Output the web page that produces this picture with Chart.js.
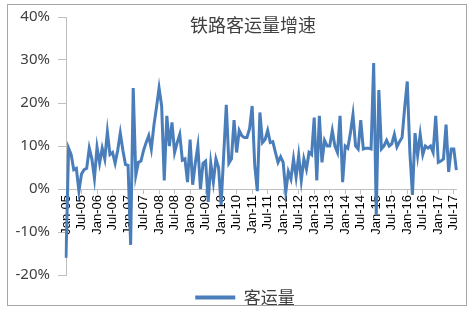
<!DOCTYPE html>
<html>
<head>
<meta charset="utf-8">
<script src="https://cdn.jsdelivr.net/npm/chart.js@4/dist/chart.umd.min.js"></script>
<style>
  html, body { margin: 0; padding: 0; background: #fff; }
  #wrap { position: relative; width: 474px; height: 312px; }
  #frame { position: absolute; left: 7px; top: 4px; width: 458px; height: 300px; border: 1px solid #a6a6a6; pointer-events: none; }
  canvas { position: absolute; left: 0; top: 0; }
</style>
</head>
<body>
<div id="wrap">
  <canvas id="chart" width="474" height="312"></canvas>
  <div id="frame"></div>
</div>
<script>
const monthNames = ['Jan', 'Feb', 'Mar', 'Apr', 'May', 'Jun', 'Jul', 'Aug', 'Sep', 'Oct', 'Nov', 'Dec'];
const years = ['05', '06', '07', '08', '09', '10', '11', '12', '13', '14', '15', '16', '17'];

// 铁路客运量同比增速 (%), monthly
const y2005 = [-16, 9.5, 8, 4.5, 4.8, -0.5, 3.5, 4.5, 4.8, 9.5, 7, 2.5];
const y2006 = [9.7, 6, 9.5, 7, 13.3, 8, 8.5, 6, 9, 13, 9, 5.7];
const y2007 = [5.5, -13, 23.5, 3.2, 6.2, 6.5, 9, 10.8, 12.4, 9.3, 14.8, 19];
const y2008 = [23.5, 19.3, 2, 17, 10, 15.5, 8.5, 10.8, 12.7, 6.7, 7, 1.6];
const y2009 = [11.5, 1, 6, 10, 0, 6, 6.5, -3, 6, 1.6, 7, 5];
const y2010 = [-3.7, 8, 19.6, 6, 7, 16, 8.5, 13.6, 12.4, 12, 12, 14];
const y2011 = [19.3, 5.5, -0.5, 17.8, 10.8, 11.5, 13.6, 10.8, 11, 8.5, 6.2, 7.5];
const y2012 = [6.2, -0.7, 4, 2.3, 7, 2.8, 7.8, 2, 7, 4.6, 8.5, 8];
const y2013 = [16.6, 2, 17, 6.2, 11.3, 10, 10, 13.6, 10, 8.5, 17, 1.6];
const y2014 = [10, 9.5, 13, 17.3, 10, 9.3, 16, 9.3, 9.5, 9.5, 9.3, 29.3];
const y2015 = [-6, 23, 9.3, 10, 11.3, 10, 10.5, 12.7, 9.8, 11, 12, 19];
const y2016 = [25, 8.5, -1.4, 13, 7.8, 12.7, 8, 10, 9.5, 10, 8.5, 17];
const y2017 = [6.2, 6.5, 7, 15, 4, 9.3, 9.3, 4.4];

const values = [].concat(y2005, y2006, y2007, y2008, y2009, y2010, y2011,
  y2012, y2013, y2014, y2015, y2016, y2017);

// month labels like "Jan-05"
const labels = [];
years.forEach(yr => {
  monthNames.forEach(m => {
    if (labels.length < values.length) labels.push(m + '-' + yr);
  });
});

const titleText = '铁路客运量增速';
const seriesName = '客运量';
const lineColor = '#4a7ebb';

// title sits inside the plot area, like the original
const titlePlugin = {
  id: 'innerTitle',
  afterLayout(chart) {
    // legend in the original is centred a bit right of the canvas middle
    if (chart.legend) {
      chart.legend.left += 15;
      chart.legend.right += 15;
    }
  },
  afterDraw(chart) {
    const ctx = chart.ctx;
    ctx.save();
    ctx.font = '18px "Noto Sans CJK SC"';
    ctx.fillStyle = '#404040';
    ctx.textAlign = 'center';
    ctx.textBaseline = 'middle';
    ctx.fillText(titleText, 253, 25);
    ctx.restore();
  }
};

new Chart(document.getElementById('chart'), {
  type: 'line',
  data: {
    labels: labels,
    datasets: [{
      label: seriesName,
      data: values,
      borderColor: lineColor,
      backgroundColor: lineColor,
      borderWidth: 3,
      pointRadius: 0,
      tension: 0
    }]
  },
  options: {
    responsive: false,
    animation: false,
    layout: { padding: { left: 0, top: 12, right: 14, bottom: -4 } },
    plugins: {
      legend: {
        position: 'bottom',
        labels: {
          boxWidth: 40,
          boxHeight: 4,
          padding: 14,
          color: '#404040',
          font: { family: '"Noto Sans CJK SC"', size: 17 },
          // plain 4px bar, no outline
          generateLabels: chart => Chart.defaults.plugins.legend.labels.generateLabels(chart)
            .map(item => Object.assign(item, { lineWidth: 0 }))
        }
      },
      tooltip: { enabled: false }
    },
    scales: {
      x: {
        position: { y: 0 },
        grid: {
          drawOnChartArea: false,
          tickLength: 4,
          color: ctx => (ctx.index % 6 === 0 ? '#bfbfbf' : 'transparent')
        },
        border: { color: '#bfbfbf' },
        ticks: {
          autoSkip: false,
          maxRotation: 90,
          minRotation: 90,
          padding: 2,
          color: '#000',
          font: { family: '"Liberation Sans"', size: 13 },
          callback: function (val, i) { return i % 6 === 0 ? labels[i] : ''; }
        }
      },
      y: {
        min: -20,
        max: 40,
        grid: { drawOnChartArea: false, tickLength: 8, color: '#bfbfbf' },
        border: { color: '#bfbfbf' },
        afterFit: scale => { scale.width = 66; },
        ticks: {
          stepSize: 10,
          padding: 8,
          color: '#404040',
          font: { family: '"Noto Sans"', size: 15 },
          callback: v => v + '%'
        }
      }
    }
  },
  plugins: [titlePlugin]
});
</script>
</body>
</html>
